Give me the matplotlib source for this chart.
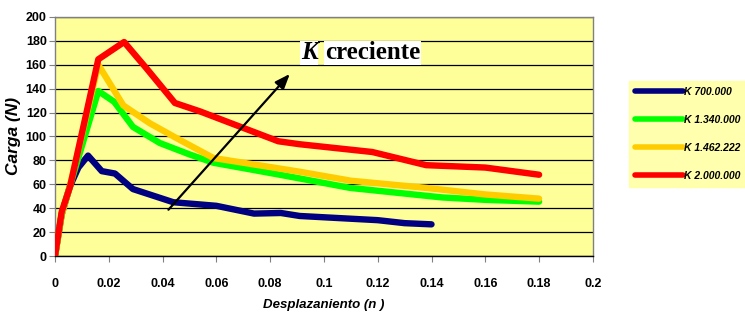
import matplotlib
matplotlib.use("Agg")
import matplotlib.pyplot as plt

# ---------------------------------------------------------------------------
# Data
# ---------------------------------------------------------------------------

x_700 = [0, 0.0025, 0.0055, 0.0087, 0.0123, 0.0174, 0.0223, 0.029, 0.044,
         0.060, 0.074, 0.084, 0.091, 0.12, 0.13, 0.14]
y_700 = [0, 35, 58, 74, 84, 71, 69, 56, 45, 42, 35.5, 36, 33.5, 30, 27.5, 26.5]

x_1340 = [0, 0.0025, 0.0055, 0.0161, 0.022, 0.029, 0.039, 0.05, 0.059,
          0.0836, 0.1097, 0.144, 0.16, 0.18]
y_1340 = [0, 35, 58, 138, 129, 108, 94.5, 85, 78, 68, 57, 49, 47, 45.5]

x_1462 = [0, 0.0025, 0.0055, 0.0161, 0.0254, 0.0353, 0.0465, 0.0589,
          0.091, 0.11, 0.138, 0.16, 0.18]
y_1462 = [0, 35, 58, 160, 126, 111, 97, 82, 70.5, 63, 57, 51.5, 48]

x_2000 = [0, 0.0025, 0.0056, 0.0161, 0.0257, 0.034, 0.0446, 0.0539,
          0.083, 0.091, 0.118, 0.138, 0.16, 0.18]
y_2000 = [0, 37, 58, 164.5, 179, 157, 128, 121, 96, 93.5, 87, 76, 74, 68]

series = [
    ("K 700.000", x_700, y_700, "#000080"),
    ("K 1.340.000", x_1340, y_1340, "#00FF00"),
    ("K 1.462.222", x_1462, y_1462, "#FFCC00"),
    ("K 2.000.000", x_2000, y_2000, "#FF0000"),
]

x_ticks = [0, 0.02, 0.04, 0.06, 0.08, 0.1, 0.12, 0.14, 0.16, 0.18, 0.2]
x_tick_labels = ["0", "0.02", "0.04", "0.06", "0.08", "0.1", "0.12",
                 "0.14", "0.16", "0.18", "0.2"]
y_ticks = list(range(0, 201, 20))

arrow_start = (0.0415, 37)
arrow_end = (0.088, 154)

# ---------------------------------------------------------------------------
# Figure
# ---------------------------------------------------------------------------

plt.rcParams["font.family"] = ["Liberation Sans", "DejaVu Sans"]

fig = plt.figure(figsize=(7.45, 3.13), dpi=100)
ax = fig.add_axes([0.0738, 0.182, 0.722, 0.764])
ax.set_facecolor("#FFFF99")

for label, xs, ys, color in series:
    ax.plot(xs, ys, color=color, lw=4.6, label=label,
            solid_capstyle="round", solid_joinstyle="round", zorder=3)

ax.annotate("", xy=arrow_end, xytext=arrow_start,
            arrowprops=dict(arrowstyle="-|>,head_length=0.9,head_width=0.35",
                            color="black", lw=1.6),
            zorder=4)

# annotation "K creciente" (K italic, both bold serif on white)
ax.text(0.0914, 170, "K", fontsize=18, va="center", ha="left",
        family="Liberation Serif", weight="bold", style="italic",
        zorder=5, bbox=dict(facecolor="white", edgecolor="none", pad=0.5))
ax.text(0.1004, 170, "creciente", fontsize=18, va="center", ha="left",
        family="Liberation Serif", weight="bold",
        zorder=5, bbox=dict(facecolor="white", edgecolor="none", pad=0.5))

ax.set_xlim(0, 0.2)
ax.set_ylim(0, 200)
ax.set_xticks(x_ticks)
ax.set_xticklabels(x_tick_labels)
ax.set_yticks(y_ticks)
ax.yaxis.grid(True, color="black", lw=0.9)
ax.set_axisbelow(True)

for lab in ax.get_xticklabels() + ax.get_yticklabels():
    lab.set_fontweight("bold")
    lab.set_fontsize(9)

ax.tick_params(axis="x", direction="out", length=4, pad=12, color="#808080")
ax.tick_params(axis="y", direction="out", length=4, pad=2, color="#808080")
for sp in ax.spines.values():
    sp.set_color("#808080")
    sp.set_linewidth(1)
ax.spines["bottom"].set_color("black")

ax.set_xlabel("Desplazaniento (n )", fontsize=9.5, fontweight="bold",
              style="italic", labelpad=6)
ax.set_ylabel("Carga (N)", fontsize=12.5, fontweight="bold", style="italic",
              labelpad=3)

leg = fig.legend(loc="upper left", bbox_to_anchor=(0.844, 0.742),
                 frameon=True, fancybox=False, fontsize=7.5,
                 handlelength=4.6, handletextpad=0.1, labelspacing=1.72,
                 borderpad=0.6, borderaxespad=0)
leg.get_frame().set_facecolor("#FFFF99")
leg.get_frame().set_edgecolor("#FFFF99")
for t in leg.get_texts():
    t.set_fontweight("bold")
    t.set_fontstyle("italic")
for h in leg.get_lines():
    h.set_linewidth(4)

fig.savefig("out.png", dpi=100)
